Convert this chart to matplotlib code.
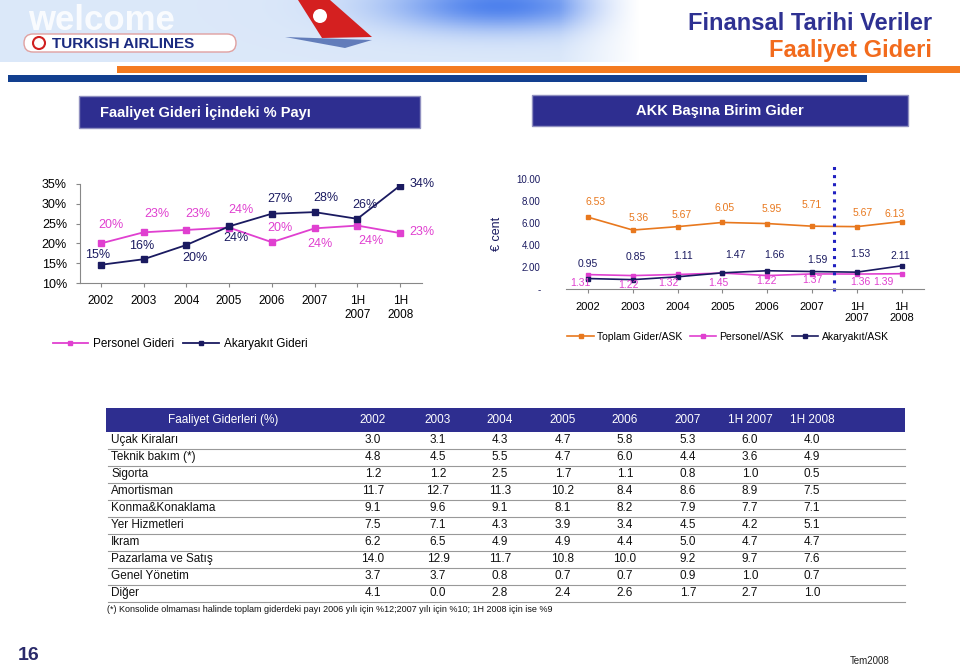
import numpy as np
import matplotlib.pyplot as plt
from matplotlib.patches import Rectangle, FancyBboxPatch, Polygon, Circle
from matplotlib.lines import Line2D

plt.rcParams['font.family'] = ['Liberation Sans', 'DejaVu Sans']

# ---- data ----
periods = ['2002', '2003', '2004', '2005', '2006', '2007', '1H\n2007', '1H\n2008']

# Faaliyet Gideri içindeki % payı
personel_pct = [20.0, 22.8, 23.4, 24.0, 20.3, 23.8, 24.5, 22.6]
personel_pct_lbl = ['20%', '23%', '23%', '24%', '20%', '24%', '24%', '23%']
akaryakit_pct = [14.6, 16.0, 19.6, 24.3, 27.5, 27.9, 26.2, 34.6]
akaryakit_pct_lbl = ['15%', '16%', '20%', '24%', '27%', '28%', '26%', '34%']

# AKK başına birim gider (€ cent)
toplam_ask = [6.53, 5.36, 5.67, 6.05, 5.95, 5.71, 5.67, 6.13]
personel_ask = [1.31, 1.22, 1.32, 1.45, 1.22, 1.37, 1.36, 1.39]
akaryakit_ask = [0.95, 0.85, 1.11, 1.47, 1.66, 1.59, 1.53, 2.11]

# table
table_cols = ['2002', '2003', '2004', '2005', '2006', '2007', '1H 2007', '1H 2008']
table_rows = ['Uçak Kiraları', 'Teknik bakım (*)', 'Sigorta', 'Amortisman',
              'Konma&Konaklama', 'Yer Hizmetleri', 'Ikram', 'Pazarlama ve Satış',
              'Genel Yönetim', 'Diğer']
table_vals = [
    [3.0, 3.1, 4.3, 4.7, 5.8, 5.3, 6.0, 4.0],
    [4.8, 4.5, 5.5, 4.7, 6.0, 4.4, 3.6, 4.9],
    [1.2, 1.2, 2.5, 1.7, 1.1, 0.8, 1.0, 0.5],
    [11.7, 12.7, 11.3, 10.2, 8.4, 8.6, 8.9, 7.5],
    [9.1, 9.6, 9.1, 8.1, 8.2, 7.9, 7.7, 7.1],
    [7.5, 7.1, 4.3, 3.9, 3.4, 4.5, 4.2, 5.1],
    [6.2, 6.5, 4.9, 4.9, 4.4, 5.0, 4.7, 4.7],
    [14.0, 12.9, 11.7, 10.8, 10.0, 9.2, 9.7, 7.6],
    [3.7, 3.7, 0.8, 0.7, 0.7, 0.9, 1.0, 0.7],
    [4.1, 0.0, 2.8, 2.4, 2.6, 1.7, 2.7, 1.0],
]

PINK = '#e040d0'
NAVY = '#1a1a60'
ORANGE = '#e8781e'
BOX = '#2e2e90'
TITLE_NAVY = '#2e3192'
TITLE_ORANGE = '#f26b1d'
W, H = 960, 666

fig = plt.figure(figsize=(9.6, 6.66), dpi=100)
fig.patch.set_facecolor('white')

# overlay in pixel coordinates
ov = fig.add_axes([0, 0, 1, 1])
ov.set_xlim(0, W)
ov.set_ylim(H, 0)
ov.axis('off')

# banner: soft sky with a blue patch top-right
gx, gy = np.meshgrid(np.linspace(0, 640, 320), np.linspace(0, 62, 40))
blue = np.exp(-((gx - 500) / 110) ** 2 - ((gy - 5) / 25) ** 2)
fade = np.clip((640 - gx) / 80, 0, 1)
sky = np.zeros(gx.shape + (3,))
sky[..., 0] = 0.86 - 0.55 * blue
sky[..., 1] = 0.91 - 0.40 * blue
sky[..., 2] = 0.98 - 0.05 * blue
sky = 1 - (1 - sky) * fade[..., None]
ov.imshow(sky, extent=[0, 640, 62, 0], aspect='auto', zorder=0)
ov.text(28, 20, 'welcome', fontsize=25, fontweight='bold', color='white', alpha=0.85,
        va='center', ha='left', zorder=1)
ov.add_patch(FancyBboxPatch((24, 34), 212, 18, boxstyle='round,pad=0,rounding_size=9',
                            fc='white', ec='#e0a0a0', lw=1, zorder=2))
ov.add_patch(Circle((39, 43), 6, fc='white', ec='#d02020', lw=1.5, zorder=3))
ov.text(52, 43.5, 'TURKISH AIRLINES', fontsize=11, fontweight='bold', color='#1a2a80',
        va='center', ha='left', zorder=3)
ov.add_patch(Polygon([[298, 0], [330, 0], [372, 37], [322, 38]], closed=True,
                     fc='#d42020', ec='none', zorder=2))
ov.add_patch(Circle((320, 16), 7, fc='white', ec='none', zorder=3))
ov.add_patch(Polygon([[285, 37], [372, 40], [345, 48]], closed=True,
                     fc='#3050a0', ec='none', alpha=0.7, zorder=2))

ov.add_patch(Rectangle((117, 66), W - 117, 7, color='#f47b20', lw=0))
ov.add_patch(Rectangle((8, 75), 859, 7, color='#123f8f', lw=0))

ov.text(932, 23, 'Finansal Tarihi Veriler', fontsize=17, fontweight='bold',
        color=TITLE_NAVY, ha='right', va='center')
ov.text(932, 51, 'Faaliyet Gideri', fontsize=17, fontweight='bold',
        color=TITLE_ORANGE, ha='right', va='center')

# section headers
ov.add_patch(Rectangle((79, 96), 341, 32, fc=BOX, ec='#9090c0', lw=1))
ov.text(100, 112, 'Faaliyet Gideri İçindeki % Payı', fontsize=10.5, fontweight='bold',
        color='white', ha='left', va='center')
ov.add_patch(Rectangle((532, 95), 376, 31, fc=BOX, ec='#9090c0', lw=1))
ov.text(720, 111, 'AKK Başına Birim Gider', fontsize=10.5, fontweight='bold', color='white',
        ha='center', va='center')


def lbl(ax, text, xy, off, color, size):
    # offsets given in image pixels (y down)
    ax.annotate(text, xy, xytext=(off[0], -off[1]), textcoords='offset pixels',
                ha='center', va='center', fontsize=size, color=color)


# ---- left chart ----
x = np.arange(len(periods))
ax1 = fig.add_axes([79.5 / W, (H - 283) / H, 342 / W, 99 / H])
ax1.plot(x, personel_pct, color=PINK, marker='s', ms=4, lw=1.3, label='Personel Gideri')
ax1.plot(x, akaryakit_pct, color=NAVY, marker='s', ms=4, lw=1.3, label='Akaryakıt Gideri')
ax1.set_xlim(-0.5, 7.5)
ax1.set_ylim(10, 35)
ax1.set_yticks([10, 15, 20, 25, 30, 35])
ax1.set_yticklabels(['10%', '15%', '20%', '25%', '30%', '35%'])
ax1.set_xticks(x)
ax1.set_xticklabels(periods)
ax1.tick_params(axis='x', labelsize=8.5, length=3, color='#888888', pad=6)
ax1.tick_params(axis='y', labelsize=9, length=3, color='#888888', pad=6)
for s in ['top', 'right']:
    ax1.spines[s].set_visible(False)
for s in ['left', 'bottom']:
    ax1.spines[s].set_color('#888888')
ax1.patch.set_alpha(0)

p_off = [(10, -18), (13, -18), (11, -16), (12, -18), (8, -14), (5, 16), (14, 15), (22, -1)]
a_off = [(-3, -10), (-2, -13), (9, 13), (7, 12), (8, -15), (11, -14), (8, -14), (22, -2)]
for i in range(len(periods)):
    lbl(ax1, personel_pct_lbl[i], (x[i], personel_pct[i]), p_off[i], PINK, 9)
    lbl(ax1, akaryakit_pct_lbl[i], (x[i], akaryakit_pct[i]), a_off[i], NAVY, 9)
ax1.legend(loc='center', bbox_to_anchor=(180 / W, 1 - 344 / H), bbox_transform=fig.transFigure,
           ncol=2, frameon=False, fontsize=8.5, handlelength=3, columnspacing=0.8,
           handletextpad=0.4, markerscale=0.8)

# ---- right chart ----
ax2 = fig.add_axes([565.6 / W, (H - 289) / H, 358.4 / W, 110 / H])
ax2.plot(x, toplam_ask, color=ORANGE, marker='s', ms=3.5, lw=1.2, label='Toplam Gider/ASK')
ax2.plot(x, personel_ask, color=PINK, marker='s', ms=3.5, lw=1.2, label='Personel/ASK')
ax2.plot(x, akaryakit_ask, color=NAVY, marker='s', ms=3.5, lw=1.2, label='Akaryakıt/ASK')
ax2.axvline(5.5, ymin=-0.02, ymax=1.13, color='#2020c0', ls=':', lw=2.2, clip_on=False)
ax2.set_xlim(-0.5, 7.5)
ax2.set_ylim(0, 10)
ax2.set_yticks([0, 2, 4, 6, 8, 10])
ax2.set_yticklabels(['-', '2.00', '4.00', '6.00', '8.00', '10.00'])
ax2.set_xticks(x)
ax2.set_xticklabels(periods)
ax2.tick_params(axis='y', labelsize=7, length=0, colors=NAVY, pad=18)
ax2.tick_params(axis='x', labelsize=8, length=3, color='#888888', pad=6)
for s in ['top', 'right', 'left']:
    ax2.spines[s].set_visible(False)
ax2.spines['bottom'].set_color('#888888')
ax2.patch.set_alpha(0)
ax2.set_ylabel('€ cent', fontsize=9, color=NAVY)
ax2.yaxis.set_label_coords(-0.175, 0.5)

t_off = [(8, -15), (6, -12), (4, -12), (2, -14), (5, -15), (0, -21), (6, -14), (-7, -8)]
k_off = [(0, -15), (3, -23), (5, -21), (13, -18), (7, -16), (5, -12), (4, -18), (-1, -10)]
q_off = [(-8, 8), (-4, 9), (-9, 9), (-4, 10), (-1, 5), (0, 6), (4, 8), (-18, 8)]
for i in range(len(periods)):
    lbl(ax2, f'{toplam_ask[i]:.2f}', (x[i], toplam_ask[i]), t_off[i], ORANGE, 7.5)
    lbl(ax2, f'{akaryakit_ask[i]:.2f}', (x[i], akaryakit_ask[i]), k_off[i], NAVY, 7.5)
    lbl(ax2, f'{personel_ask[i]:.2f}', (x[i], personel_ask[i]), q_off[i], PINK, 7.5)
ax2.legend(loc='center', bbox_to_anchor=(728 / W, 1 - 337 / H), bbox_transform=fig.transFigure,
           ncol=3, frameon=False, fontsize=7.5, handlelength=2.5, columnspacing=0.8,
           handletextpad=0.3, markerscale=0.8)

# ---- table ----
tfont = ['Liberation Sans Narrow', 'Liberation Sans']
col_x = [373, 438, 500, 563, 625, 688, 750, 812]
ov.add_patch(Rectangle((106, 408), 799, 24, fc=BOX, ec='none'))
ov.text(223, 420, 'Faaliyet Giderleri (%)', fontsize=8.5, color='white', ha='center',
        va='center', family=tfont)
for cx, c in zip(col_x, table_cols):
    ov.text(cx, 420, c, fontsize=8.5, color='white', ha='center', va='center', family=tfont)
row_y0, row_h = 440, 17.0
for r, (name, vals) in enumerate(zip(table_rows, table_vals)):
    yy = row_y0 + r * row_h
    ov.text(111, yy, name, fontsize=8.5, color='#111111', ha='left', va='center', family=tfont)
    for cx, v in zip(col_x, vals):
        ov.text(cx, yy, f'{v:.1f}', fontsize=8.5, color='#111111', ha='center', va='center',
                family=tfont)
    ov.add_line(Line2D([108, 905], [yy + row_h / 2, yy + row_h / 2], color='#999999', lw=0.8))
ov.text(107, 609, '(*) Konsolide olmaması halinde toplam giderdeki payı 2006 yılı için %12;2007 '
        'yılı için %10; 1H 2008 için ise %9', fontsize=6.5, color='#111111', ha='left',
        va='center', family=tfont)

# footer
ov.text(18, 655, '16', fontsize=14, fontweight='bold', color='#2a2a6a', ha='left', va='center',
        family=tfont)
ov.text(870, 661, 'Tem2008', fontsize=7, color='#222222', ha='center', va='center', family=tfont)

fig.savefig('out.png', dpi=100)
